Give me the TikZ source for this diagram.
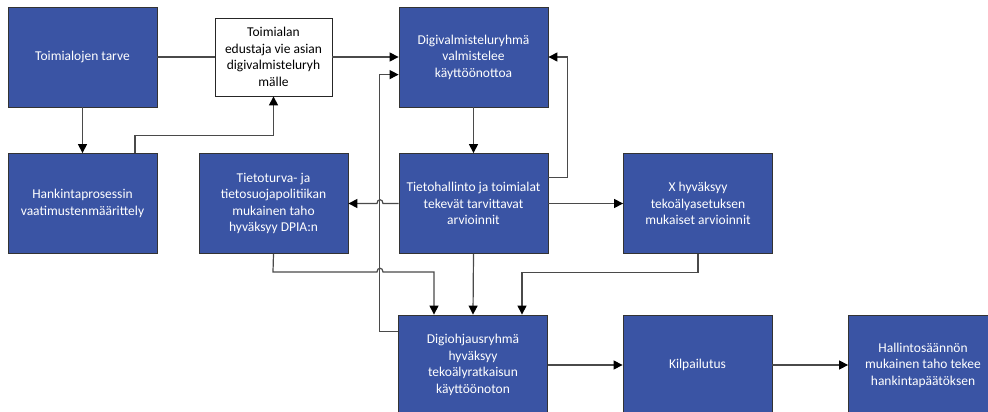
\documentclass[tikz,border=0pt]{standalone}
\usepackage{fontspec}
\setmainfont{Carlito}
\usetikzlibrary{arrows.meta,calc}
\definecolor{boxblue}{HTML}{3A54A4}
\definecolor{linegray}{HTML}{4A4A4A}
\tikzset{
  x=1pt,y=-1pt,
  bluebox/.style={draw=black!80,line width=0.8pt,fill=boxblue,text=white,align=center,
    minimum width=149pt,minimum height=100pt,inner sep=2pt,
    font=\fontsize{13.5}{16.5}\selectfont},
  whitebox/.style={draw=black!85,line width=0.8pt,fill=white,text=black,align=center,
    minimum width=117pt,minimum height=78pt,inner sep=2pt,
    font=\fontsize{13.5}{16.5}\selectfont},
  conn/.style={draw=linegray,line width=1.2pt},
  arr/.style={conn,-{Triangle[length=9pt,width=9pt,color=black,fill=black]}},
}
\begin{document}
\begin{tikzpicture}
\useasboundingbox (0,0) rectangle (988,412);
\clip (0,0) rectangle (988,412);
\fill[white] (0,0) rectangle (988,412);

\node[bluebox] (A) at (82.5,57) {Toimialojen tarve};
\node[whitebox] (B) at (273.5,57) {Toimialan\\edustaja vie asian\\digivalmisteluryh\\mälle};
\node[bluebox] (C) at (473.5,57) {Digivalmisteluryhmä\\valmistelee\\käyttöönottoa};
\node[bluebox] (D) at (82.5,203.5) {Hankintaprosessin\\vaatimustenmäärittely};
\node[bluebox] (E) at (273.5,203.5) {Tietoturva- ja\\tietosuojapolitiikan\\mukainen taho\\hyväksyy DPIA:n};
\node[bluebox] (F) at (473.5,203.5) {Tietohallinto ja toimialat\\tekevät tarvittavat\\arvioinnit};
\node[bluebox] (G) at (698,203.5) {X hyväksyy\\tekoälyasetuksen\\mukaiset arvioinnit};
\node[bluebox] (H) at (473,365) {Digiohjausryhmä\\hyväksyy\\tekoälyratkaisun\\käyttöönoton};
\node[bluebox] (I) at (697.5,365) {Kilpailutus};
\node[bluebox] (J) at (923,365) {Hallintosäännön\\mukainen taho tekee\\hankintapäätöksen};

% A to B to C
\draw[conn] (A.east) -- (B.west);
\draw[arr] (B.east) -- (C.west);
% A to D
\draw[arr] (A.south) -- (D.north);
% D to B
\draw[arr] ($(D.north)+(52.5,0)$) -- ++(0,-18) -| (B.south);
% C to F
\draw[arr] (C.south) -- (F.north);
% F to C (loop back)
\draw[arr] ($(F.north east)+(0,24)$) -- ++(19,0) |- (C.east);
% H to C
\draw[arr] ($(H.north west)+(0,17)$) -- ++(-19,0) |- ($(C.north west)+(0,68)$);
% F to E with jump
\draw[arr] (F.west) -- (383,203.5) .. controls (383,198.5) and (377,198.5) .. (377,203.5) -- (E.east);
% F to G
\draw[arr] (F.east) -- (G.west);
% E to H with jump
\draw[arr] (E.south) -- (273,272) -- (377,272) .. controls (377,267) and (383,267) .. (383,272) -| ($(H.north)+(-39,0)$);
% F to H
\draw[arr] (F.south) -- (H.north);
% G to H
\draw[arr] (G.south) -- ++(0,18.5) -| ($(H.north)+(49,0)$);
% H to I to J
\draw[arr] (H.east) -- (I.west);
\draw[arr] (I.east) -- (J.west);
\end{tikzpicture}
\end{document}
